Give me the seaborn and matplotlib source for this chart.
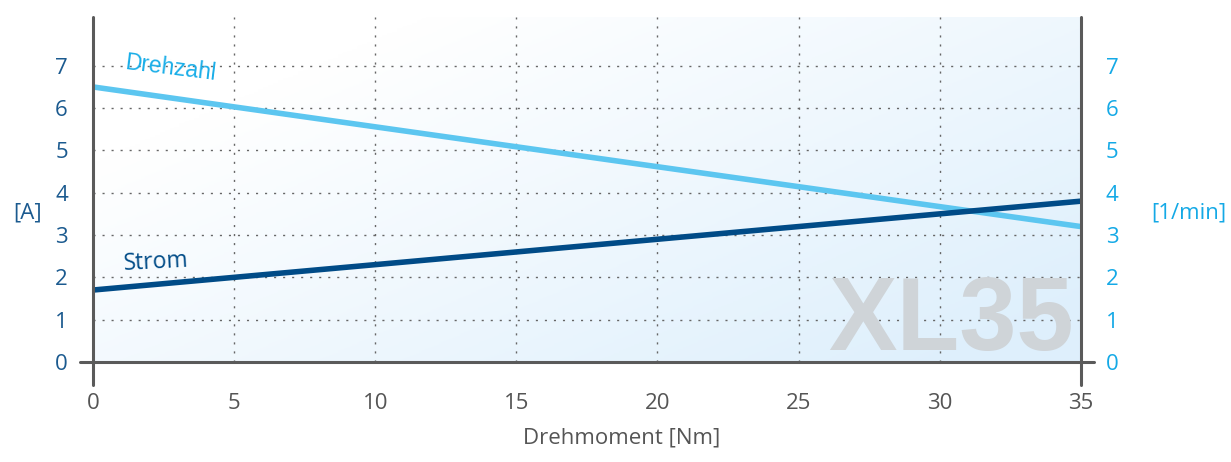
import numpy as np
import pandas as pd
import matplotlib
matplotlib.use("Agg")
import matplotlib.pyplot as plt
import seaborn as sns
from matplotlib.lines import Line2D

# data
torque = [0, 35]
strom = [1.7, 3.8]
drehzahl = [6.5, 3.2]
x_ticks = [0, 5, 10, 15, 20, 25, 30, 35]
y_ticks = [0, 1, 2, 3, 4, 5, 6, 7]

dark_blue = "#004b87"
light_blue = "#5cc6f0"
right_tick_col = "#14a9e6"
left_tick_col = "#1b5a8f"
grey = "#555555"

df = pd.DataFrame({"Drehmoment": torque, "Strom": strom, "Drehzahl": drehzahl})

sns.set_style("white")
plt.rcParams["font.family"] = ["Open Sans", "DejaVu Sans"]

fig = plt.figure(figsize=(12.31, 4.62), dpi=100)
ax = fig.add_axes([0.0755, 0.2165, 0.8025, 0.7465])

# diagonal background gradient (white top-left -> light blue bottom-right)
gx, gy = np.meshgrid(np.linspace(0, 1, 200), np.linspace(0, 1, 200))
g = np.clip((gx * 0.75 + gy * 0.6) - 0.25, 0, 1) / 1.1
cmap = matplotlib.colors.LinearSegmentedColormap.from_list("bg", ["#ffffff", "#dbeefc"])
ax.imshow(g, extent=[0, 35, 0, 8.15], origin="upper", aspect="auto", cmap=cmap,
          vmin=0, vmax=1, zorder=0)

sns.lineplot(data=df, x="Drehmoment", y="Drehzahl", ax=ax, color=light_blue, lw=4, zorder=3)
sns.lineplot(data=df, x="Drehmoment", y="Strom", ax=ax, color=dark_blue, lw=4, zorder=4)

ax.set_xlim(0, 35)
ax.set_ylim(0, 8.15)
ax.set_xticks(x_ticks)
ax.set_yticks(y_ticks)

for v in x_ticks[1:-1]:
    ax.axvline(v, color="#666666", lw=1, ls=(0, (1.5, 5)), zorder=1)
for v in y_ticks[1:]:
    ax.axhline(v, color="#666666", lw=1, ls=(0, (1.5, 5)), zorder=1)

for s in ax.spines.values():
    s.set_visible(False)

# axis lines that stick out past the corner like in the reference
line_kw = dict(transform=ax.transAxes, color="#5a5a5a", lw=2.2, clip_on=False, zorder=5)
ax.add_line(Line2D([-0.013, 1.013], [0, 0], **line_kw))
ax.add_line(Line2D([0, 0], [-0.067, 1.0], **line_kw))
ax.add_line(Line2D([1, 1], [-0.067, 1.0], **line_kw))

ax.tick_params(axis="x", length=0, pad=22, labelsize=16, labelcolor=grey)
ax.tick_params(axis="y", length=0, pad=18, labelsize=16, labelcolor=left_tick_col)
ax.set_xlabel("")
ax.set_ylabel("")
fig.text(622 / 1231, 1 - 438 / 462, "Drehmoment [Nm]", fontsize=16, color=grey,
         ha="center", va="center")

ax2 = ax.twinx()
ax2.set_ylim(0, 8.15)
ax2.set_yticks(y_ticks)
for s in ax2.spines.values():
    s.set_visible(False)
ax2.tick_params(axis="y", length=0, pad=18, labelsize=16, labelcolor=right_tick_col)

fig.text(0.011, 0.54, "[A]", fontsize=16, color=left_tick_col, ha="left", va="center")
fig.text(0.935, 0.54, "[1/min]", fontsize=16, color=right_tick_col, ha="left", va="center")

ax.text(1.1, 6.95, "Drehzahl", fontsize=16.5, color="#1aaee8", rotation=-7,
        ha="left", va="center", family=["Liberation Sans", "DejaVu Sans"], zorder=6)
ax.text(1.05, 2.35, "Strom", fontsize=16.5, color=dark_blue, rotation=3,
        ha="left", va="center", zorder=6)

ax.text(34.75, 0.28, "XL35", fontsize=74, fontweight="bold", color="#cfd4d8",
        ha="right", va="baseline", family=["Liberation Sans", "DejaVu Sans"], zorder=2)

fig.savefig("out.png", dpi=100)
